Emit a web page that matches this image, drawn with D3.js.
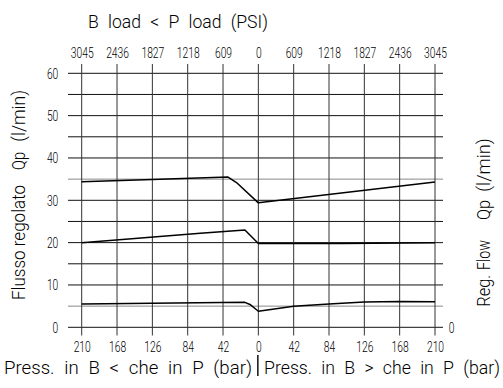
<!DOCTYPE html>
<html><head><meta charset="utf-8">
<script src="https://cdn.jsdelivr.net/npm/d3@7"></script>
<style>
html,body{margin:0;padding:0;background:#fff;}
svg{display:block;}
text{font-family:Roboto,"DejaVu Sans",sans-serif;font-weight:300;fill:#000;}
</style></head>
<body><svg id="c" width="503" height="388"></svg>
<script>
// signed pressure positions: negative = left half (B < P), positive = right half (B > P)
const xPositions = [-210,-168,-126,-84,-42,0,42,84,126,168,210];
const barTickLabels = [210,168,126,84,42,0,42,84,126,168,210];
const psiTickLabels = [3045,2436,1827,1218,609,0,609,1218,1827,2436,3045];
const yTicks = [0,10,20,30,40,50,60];
const yGrid = [0,5,10,15,20,25,30,35,40,45,50,55,60];
const yRefGray = [5,35];

const topPress = [-210,-126,-36,-26,0,210];
const topFlow  = [34.4,34.9,35.5,34.2,29.4,34.3];
const midPress = [-210,-69,-16,0,100,210];
const midFlow  = [20.0,22.2,23.0,19.8,19.8,20.0];
const lowPress = [-210,-16,-10,0,42,84,126,168,210];
const lowFlow  = [5.5,5.9,5.4,3.8,4.95,5.5,5.95,6.1,6.05];

const svg = d3.select("#c");
const x = d3.scaleLinear().domain([-210,210]).range([81.7,435]);
const y = d3.scaleLinear().domain([0,60]).range([327.3,73.3]);

// grid
const g = svg.append("g");
g.selectAll("line.h").data(yGrid).join("line")
  .attr("x1",68).attr("x2",443)
  .attr("y1",d=>y(d)).attr("y2",d=>y(d))
  .attr("stroke",d=>yRefGray.includes(d)?"#888":"#111").attr("stroke-width",1);
g.selectAll("line.v").data(xPositions).join("line")
  .attr("x1",d=>x(d)).attr("x2",d=>x(d))
  .attr("y1",64).attr("y2",335.5)
  .attr("stroke","#333").attr("stroke-width",1);

// axes (labels only)
const fmt = (arr)=> (d)=> arr[xPositions.indexOf(d)];
const ab = svg.append("g").attr("transform",`translate(0,${y(0)})`)
  .call(d3.axisBottom(x).tickValues(xPositions).tickFormat(fmt(barTickLabels)).tickSize(0).tickPadding(14));
const at = svg.append("g").attr("transform",`translate(0,${y(60)})`)
  .call(d3.axisTop(x).tickValues(xPositions).tickFormat(fmt(psiTickLabels)).tickSize(0).tickPadding(15.8));
const al = svg.append("g").attr("transform",`translate(${x(-210)},0)`)
  .call(d3.axisLeft(y).tickValues(yTicks).tickSize(0).tickPadding(23.4));
[ab,at,al].forEach(a=>{
  a.select(".domain").remove();
  a.selectAll("text").attr("font-size",15.5).attr("font-family",null).attr("fill","#000")
   .attr("lengthAdjust","spacingAndGlyphs")
   .attr("textLength",function(){return this.textContent.length*5.7;});
});

// right side "0"
svg.append("text").attr("x",451.7).attr("y",y(0)).attr("dy","0.36em").attr("text-anchor","middle").attr("font-size",15.5)
  .attr("textLength",5.7).attr("lengthAdjust","spacingAndGlyphs").text("0");

// curves
const line = d3.line().x(d=>x(d[0])).y(d=>y(d[1]));
[[topPress,topFlow],[midPress,midFlow],[lowPress,lowFlow]].forEach(([p,f])=>{
  svg.append("path").datum(p.map((v,i)=>[v,f[i]])).attr("d",line)
    .attr("fill","none").attr("stroke","#000").attr("stroke-width",1.5).attr("stroke-linejoin","round");
});

// titles
function htext(x0,yb,len,str){
  svg.append("text").attr("x",x0).attr("y",yb).attr("font-size",18).attr("textLength",len)
    .attr("word-spacing",5).attr("lengthAdjust","spacingAndGlyphs").text(str);
}
htext(88,28,180,"B load < P load (PSI)");
htext(4,374,248,"Press. in B < che in P (bar)");
htext(264,374,236,"Press. in B > che in P (bar)");
svg.append("line").attr("x1",x(0)-0.5).attr("x2",x(0)-0.5).attr("y1",355).attr("y2",376).attr("stroke","#000").attr("stroke-width",1.4);

// vertical titles (rotated)
function vtext(xc,yBottom,len,str){
  svg.append("text").attr("transform",`translate(${xc},${yBottom}) rotate(-90)`)
    .attr("font-size",18).attr("textLength",len).attr("lengthAdjust","spacingAndGlyphs").text(str);
}
vtext(25,300,115,"Flusso regolato");
vtext(25,170,18,"Qp");
vtext(25,141.7,51.7,"(l/min)");
vtext(490,306.7,32,"Reg.");
vtext(490,270,30,"Flow");
vtext(490,220,20,"Qp");
vtext(490,191.7,53.4,"(l/min)");
</script></body></html>
